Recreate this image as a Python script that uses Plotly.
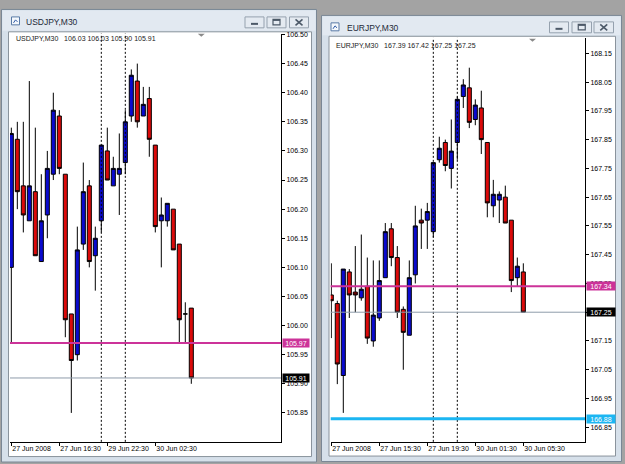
import plotly.graph_objects as go

W, H = 625, 464

# ---------------- data ----------------
usd_open  = [106.10, 106.32, 106.24, 106.18, 106.23, 106.11, 106.19, 106.26, 106.36, 106.26,
             106.02, 105.95, 106.14, 106.24, 106.12, 106.18, 106.30, 106.24, 106.26, 106.28,
             106.36, 106.42, 106.36, 106.39, 106.31, 106.18, 106.18, 106.20, 106.14, 106.02, 106.03]
usd_high  = [106.34, 106.35, 106.35, 106.42, 106.34, 106.26, 106.30, 106.40, 106.37, 106.26,
             106.02, 106.17, 106.28, 106.25, 106.17, 106.31, 106.34, 106.29, 106.33, 106.37,
             106.44, 106.45, 106.41, 106.41, 106.31, 106.22, 106.21, 106.20, 106.14, 106.04, 106.03]
usd_low   = [105.97, 106.20, 106.16, 106.18, 106.12, 106.11, 106.15, 106.25, 106.26, 105.98,
             105.85, 105.94, 106.13, 106.10, 106.06, 106.16, 106.25, 106.24, 106.19, 106.26,
             106.35, 106.34, 106.36, 106.29, 106.16, 106.10, 106.17, 106.13, 105.97, 105.97, 105.90]
usd_close = [106.33, 106.23, 106.19, 106.24, 106.12, 106.18, 106.27, 106.37, 106.27, 106.01,
             105.94, 106.13, 106.23, 106.11, 106.15, 106.31, 106.25, 106.27, 106.27, 106.35,
             106.43, 106.35, 106.38, 106.32, 106.17, 106.19, 106.21, 106.13, 106.01, 106.02, 105.91]
usd_tick_bars   = [0, 8, 16, 24]
usd_tick_labels = ["27 Jun 2008", "27 Jun 16:30", "29 Jun 22:30", "30 Jun 02:30"]
usd_separators  = [15, 19]
usd_price_ticks = [106.50, 106.45, 106.40, 106.35, 106.30, 106.25, 106.20, 106.15, 106.10,
                   106.05, 106.00, 105.95, 105.90, 105.85]
usd_level = 105.97

eur_open  = [167.31, 167.28, 167.03, 167.39, 167.32, 167.30, 167.34, 167.15, 167.23, 167.37,
             167.54, 167.44, 167.26, 167.17, 167.38, 167.57, 167.57, 167.53, 167.78, 167.84,
             167.75, 167.84, 168.00, 168.03, 167.92, 167.96, 167.84, 167.62, 167.64, 167.65,
             167.57, 167.37, 167.39]
eur_high  = [167.42, 167.29, 167.40, 167.40, 167.48, 167.52, 167.44, 167.43, 167.43, 167.56,
             167.56, 167.48, 167.27, 167.43, 167.62, 167.61, 167.63, 167.77, 167.86, 167.85,
             167.92, 168.00, 168.06, 168.10, 167.99, 168.02, 167.84, 167.71, 167.67, 167.69,
             167.57, 167.44, 167.42]
eur_low   = [167.16, 167.00, 166.90, 167.23, 167.25, 167.29, 167.14, 167.13, 167.22, 167.37,
             167.41, 167.23, 167.05, 167.17, 167.35, 167.47, 167.47, 167.51, 167.77, 167.74,
             167.68, 167.78, 167.96, 167.89, 167.90, 167.80, 167.58, 167.58, 167.56, 167.56,
             167.32, 167.34, 167.25]
eur_close = [167.29, 167.07, 167.40, 167.31, 167.31, 167.33, 167.16, 167.24, 167.36, 167.53,
             167.44, 167.25, 167.18, 167.37, 167.55, 167.56, 167.60, 167.77, 167.82, 167.76,
             167.81, 167.99, 168.04, 167.91, 167.97, 167.85, 167.63, 167.66, 167.66, 167.56,
             167.36, 167.41, 167.25]
eur_tick_bars   = [0, 8, 16, 24, 32]
eur_tick_labels = ["27 Jun 2008", "27 Jun 15:30", "27 Jun 19:30", "30 Jun 01:30", "30 Jun 05:30"]
eur_separators  = [17, 21]
eur_price_ticks = [168.15, 168.05, 167.95, 167.85, 167.75, 167.65, 167.55, 167.45, 167.35,
                   167.25, 167.15, 167.05, 166.95, 166.85]
eur_level  = 167.34
eur_target = 166.88

# ---------------- helpers ----------------
def px(x):
    return x / W

def py(y):
    return 1 - y / H

FONT = "Liberation Sans, Arial, sans-serif"
BLUE, RED = "#0A0ACF", "#DB0A0A"
MAGENTA, CYAN, GREYLINE = "#CC3399", "#1CB6F2", "#8E9CAB"
FRAME, FRAME_EDGE = "#D6E0EA", "#7A8795"

shapes, annotations = [], []

def rect(x0, y0, x1, y1, fill, edge, w=1, layer="below"):
    shapes.append(dict(type="rect", xref="paper", yref="paper", x0=px(x0), x1=px(x1),
                       y0=py(y1), y1=py(y0), fillcolor=fill, line=dict(color=edge, width=w),
                       layer=layer))

def seg(x0, y0, x1, y1, color, w=1):
    shapes.append(dict(type="line", xref="paper", yref="paper", x0=px(x0), x1=px(x1),
                       y0=py(y0), y1=py(y1), line=dict(color=color, width=w), layer="below"))

def window(outer, client, title, title_xy, buttons_y, buttons_x, icon):
    rect(*outer, FRAME, FRAME_EDGE)
    rect(outer[0] + 1, outer[1] + 1, outer[2] - 1, client[1] - 1, "#E2E9F1", "rgba(0,0,0,0)", 0)
    rect(*client, "#FFFFFF", "#8A939C")
    annotations.append(dict(x=px(title_xy[0]), y=py(title_xy[1]), xref="paper", yref="paper",
                            xanchor="left", yanchor="middle", text=title, showarrow=False,
                            font=dict(family=FONT, size=8.5, color="#1E2A38")))
    ix, iy = icon
    rect(ix, iy, ix + 8, iy + 8, "#F4F8FC", "#5A7BA6")
    seg(ix + 2, iy + 6, ix + 4, iy + 3, "#2D5AA8")
    seg(ix + 4, iy + 3, ix + 6, iy + 5, "#2D5AA8")
    by0, by1 = buttons_y
    for k, (bx0, bx1) in enumerate(buttons_x):
        rect(bx0, by0, bx1, by1, "#E4EAF1", "#95A1AE")
        cx, cy = (bx0 + bx1) / 2, (by0 + by1) / 2
        g = "#4C5968"
        if k == 0:
            seg(cx - 3.5, cy + 1.5, cx + 3.5, cy + 1.5, g, 2)
        elif k == 1:
            rect(cx - 3.5, cy - 3, cx + 3.5, cy + 2.5, "rgba(0,0,0,0)", g, 1.2)
            seg(cx - 3.5, cy - 2.2, cx + 3.5, cy - 2.2, g, 1.5)
        else:
            seg(cx - 3.5, cy - 3, cx + 3.5, cy + 3, g, 1.6)
            seg(cx - 3.5, cy + 3, cx + 3.5, cy - 3, g, 1.6)

window((1.5, 6.5, 316.5, 462), (8.5, 29, 311.5, 456.5), "USDJPY,M30", (24, 19.5),
       (14, 25), [(245, 264), (267, 286), (289.5, 308.5)], (11.5, 14))
window((321.5, 12.5, 621.5, 461.5), (329, 33.5, 615.5, 456), "EURJPY,M30", (345, 25),
       (19, 30), [(549.5, 568.5), (572, 591.5), (594, 613.5)], (331, 20))

# chart shift markers
for (cx, cy) in [(201.3, 31), (532.5, 36)]:
    shapes.append(dict(type="path", xref="paper", yref="paper",
                       path=f"M {px(cx-3.5)},{py(cy)} L {px(cx+3.5)},{py(cy)} L {px(cx)},{py(cy+3)} Z",
                       fillcolor="#8A8A8A", line=dict(width=0), layer="above"))

def chart(xa, ya, o, h, l, c, seps, levels, boxes_x, box_w, header, header_xy):
    xr, yr = xa, ya
    for s in seps:
        shapes.append(dict(type="line", xref=xr, yref=f"{yr} domain", x0=s, x1=s, y0=0, y1=1,
                           line=dict(color="#000000", width=1, dash="2px,2px"), layer="above"))
    for val, color, w, bg in levels:
        shapes.append(dict(type="line", xref=f"{xr} domain", yref=yr, x0=0, x1=1, y0=val, y1=val,
                           line=dict(color=color, width=w), layer="above"))
        annotations.append(dict(x=px(boxes_x), y=val, xref="paper", yref=yr, xanchor="left",
                                yanchor="middle", text=f"{val:.2f}", showarrow=False,
                                bgcolor=bg, width=box_w, height=8, borderpad=0, align="center",
                                font=dict(family=FONT, size=7, color="#FFFFFF")))
    annotations.append(dict(x=px(header_xy[0]), y=py(header_xy[1]), xref="paper", yref="paper",
                            xanchor="left", yanchor="middle", text=header, showarrow=False,
                            font=dict(family=FONT, size=7, color="#1A1A1A")))
    return go.Candlestick(x=list(range(len(o))), open=o, high=h, low=l, close=c,
                          xaxis=xa, yaxis=ya, whiskerwidth=0,
                          increasing=dict(fillcolor=BLUE, line=dict(color="#000000", width=1)),
                          decreasing=dict(fillcolor=RED, line=dict(color="#000000", width=1)),
                          hoverinfo="skip", showlegend=False)

def hdr(sym, o, h, l, c):
    return f"{sym}\u00a0\u00a0\u00a0{o[-1]:.2f} {h[-1]:.2f} {l[-1]:.2f} {c[-1]:.2f}"

t1 = chart("x", "y", usd_open, usd_high, usd_low, usd_close, usd_separators,
           [(usd_level, MAGENTA, 2, MAGENTA), (usd_close[-1], GREYLINE, 1, "#000000")],
           282, 26, hdr("USDJPY,M30", usd_open, usd_high, usd_low, usd_close), (14, 36))
t2 = chart("x2", "y2", eur_open, eur_high, eur_low, eur_close, eur_separators,
           [(eur_level, MAGENTA, 2, MAGENTA), (eur_close[-1], GREYLINE, 1, "#000000"),
            (eur_target, CYAN, 3, CYAN)],
           586, 28, hdr("EURJPY,M30", eur_open, eur_high, eur_low, eur_close), (334, 42.5))

fig = go.Figure([t1, t2])

xcommon = dict(showgrid=False, zeroline=False, showline=True, linecolor="#000000", linewidth=1,
               ticks="outside", ticklen=3, tickcolor="#000000", ticklabelposition="outside right",
               tickangle=0, tickfont=dict(family=FONT, size=7, color="#000000"), fixedrange=True,
               rangeslider=dict(visible=False))
ycommon = dict(showgrid=False, zeroline=False, showline=True, linecolor="#000000", linewidth=1,
               ticks="outside", ticklen=3, tickcolor="#000000", side="right",
               tickfont=dict(family=FONT, size=7, color="#000000"), fixedrange=True)

fig.update_layout(
    width=W, height=H, margin=dict(l=0, r=0, t=0, b=0),
    paper_bgcolor="#A3A3A3", plot_bgcolor="#FFFFFF", showlegend=False,
    boxgap=0.18, boxgroupgap=0.18,
    xaxis=dict(xcommon, domain=[px(10), px(281)], range=[-0.22, 44.95], anchor="y",
               tickvals=usd_tick_bars, ticktext=usd_tick_labels),
    yaxis=dict(ycommon, domain=[py(441.7), py(30.7)], range=[105.8003, 106.5017], anchor="x",
               tickvals=usd_price_ticks, ticktext=[f"{v:.2f}" for v in usd_price_ticks]),
    xaxis2=dict(xcommon, domain=[px(330.7), px(585)], range=[-0.1, 42.28], anchor="y2",
                tickvals=eur_tick_bars, ticktext=eur_tick_labels),
    yaxis2=dict(ycommon, domain=[py(441.7), py(35)], range=[166.7994, 168.204], anchor="x2",
                tickvals=eur_price_ticks, ticktext=[f"{v:.2f}" for v in eur_price_ticks]),
    shapes=shapes, annotations=annotations,
)

fig.write_html("out.html")
